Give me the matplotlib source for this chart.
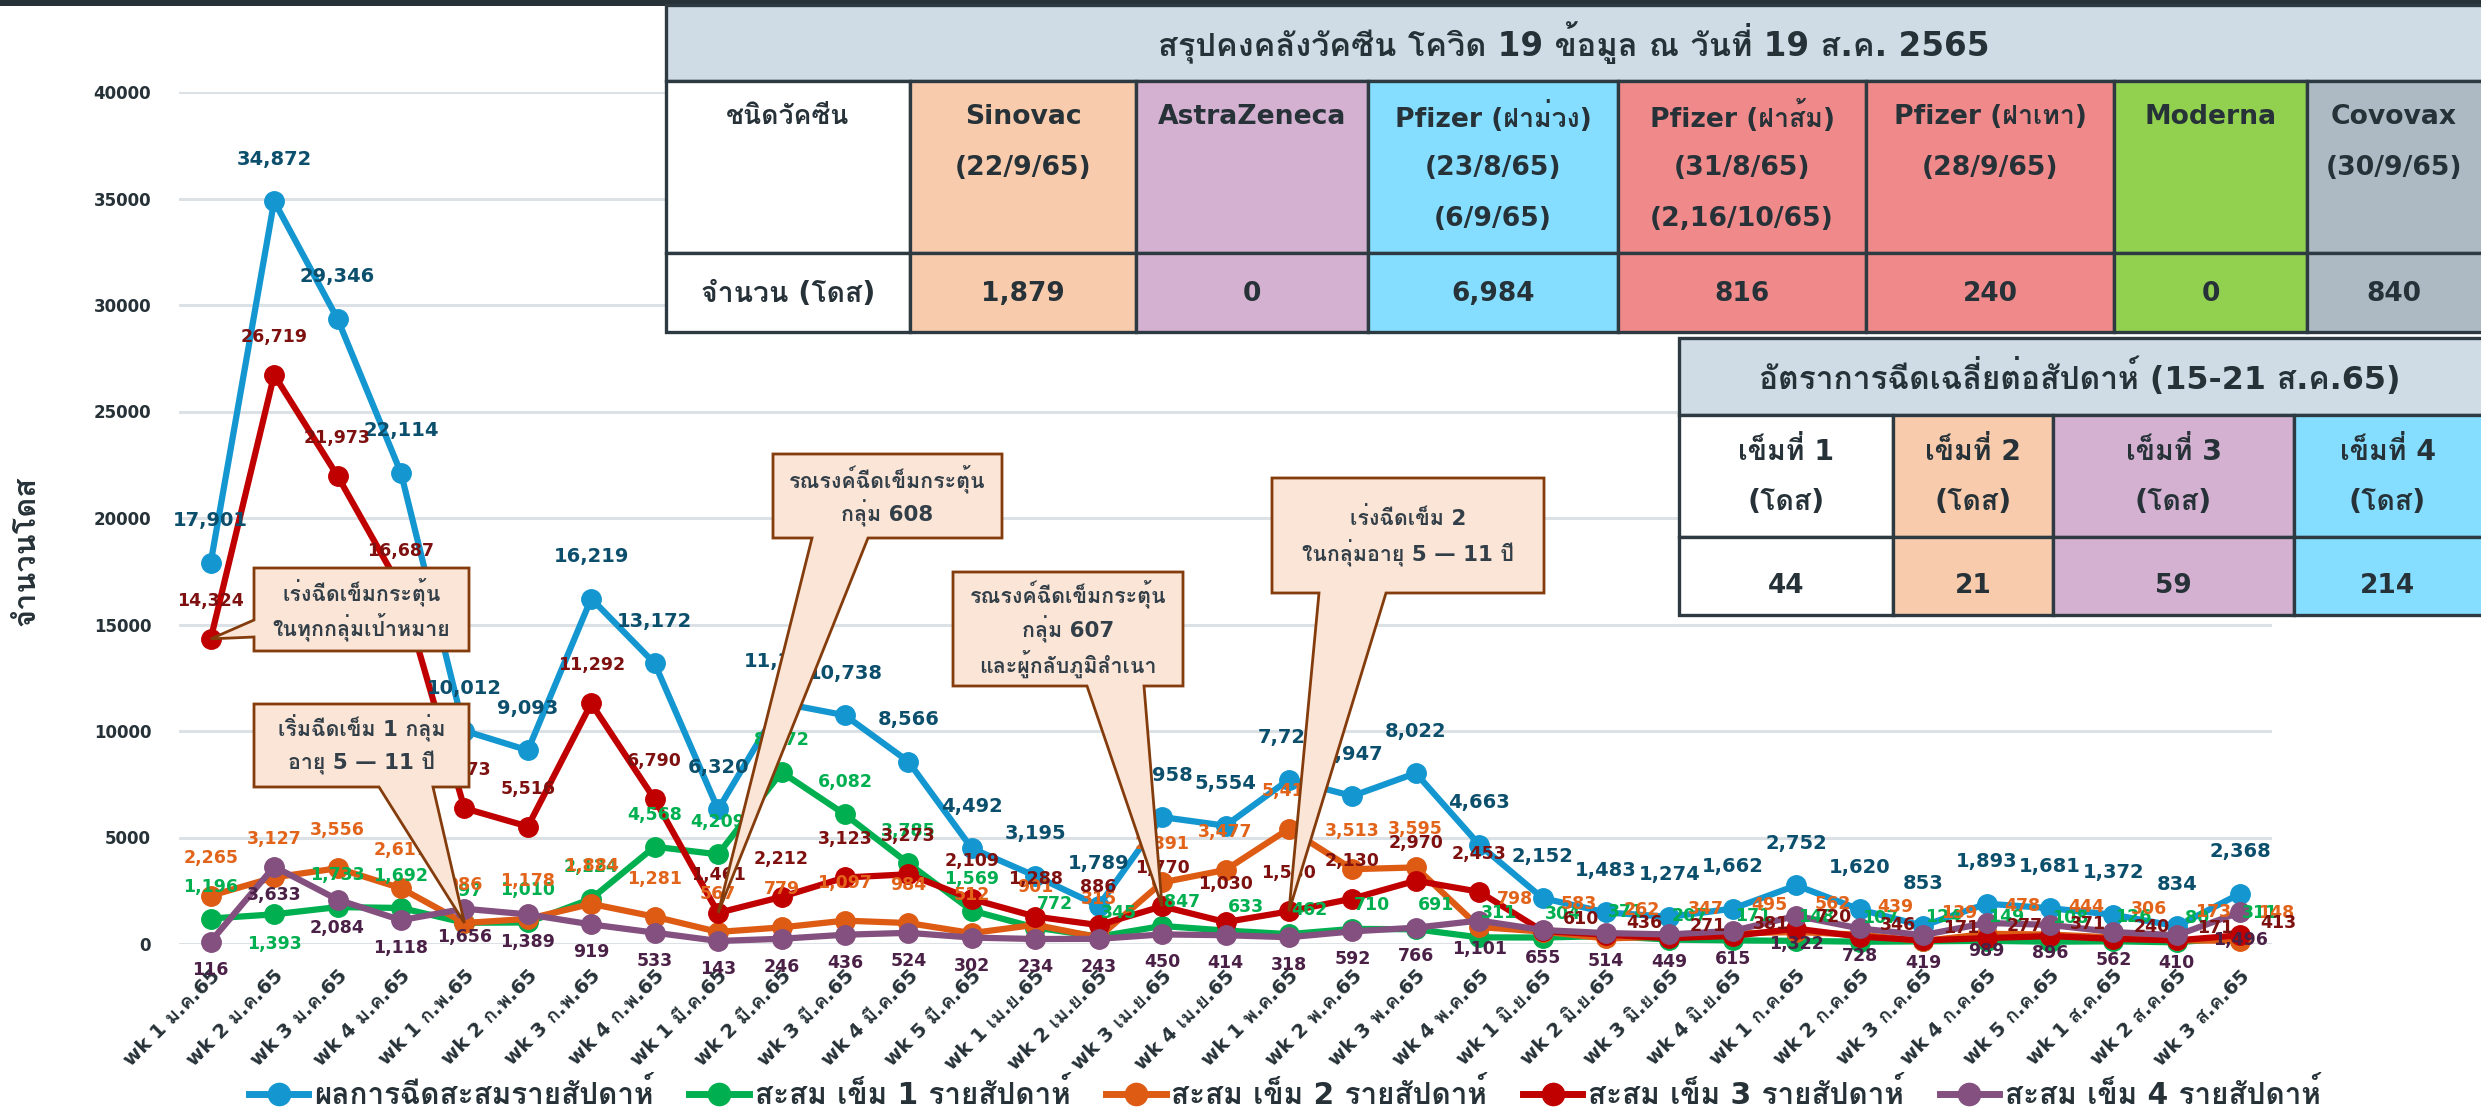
import numpy as np
import matplotlib
matplotlib.use("Agg")
import matplotlib.pyplot as plt
from matplotlib import font_manager
from matplotlib.ft2font import FT2Font
from matplotlib.lines import Line2D
from matplotlib.patches import Rectangle, Polygon

W, H = 2481, 1114

# ---- data ----
weeks = ["wk 1 ม.ค.65", "wk 2 ม.ค.65", "wk 3 ม.ค.65", "wk 4 ม.ค.65",
         "wk 1 ก.พ.65", "wk 2 ก.พ.65", "wk 3 ก.พ.65", "wk 4 ก.พ.65",
         "wk 1 มี.ค.65", "wk 2 มี.ค.65", "wk 3 มี.ค.65", "wk 4 มี.ค.65", "wk 5 มี.ค.65",
         "wk 1 เม.ย.65", "wk 2 เม.ย.65", "wk 3 เม.ย.65", "wk 4 เม.ย.65",
         "wk 1 พ.ค.65", "wk 2 พ.ค.65", "wk 3 พ.ค.65", "wk 4 พ.ค.65",
         "wk 1 มิ.ย.65", "wk 2 มิ.ย.65", "wk 3 มิ.ย.65", "wk 4 มิ.ย.65",
         "wk 1 ก.ค.65", "wk 2 ก.ค.65", "wk 3 ก.ค.65", "wk 4 ก.ค.65", "wk 5 ก.ค.65",
         "wk 1 ส.ค.65", "wk 2 ส.ค.65", "wk 3 ส.ค.65"]

total = [17901, 34872, 29346, 22114, 10012, 9093, 16219, 13172, 6320, 11309,
         10738, 8566, 4492, 3195, 1789, 5958, 5554, 7721, 6947, 8022, 4663,
         2152, 1483, 1274, 1662, 2752, 1620, 853, 1893, 1681, 1372, 834, 2368]
dose1 = [1196, 1393, 1733, 1692, 997, 1010, 2124, 4568, 4209, 8072, 6082,
         3785, 1569, 772, 345, 847, 633, 462, 710, 691, 311, 304, 371, 207,
         171, 148, 107, 124, 149, 108, 126, 80, 311]
dose2 = [2265, 3127, 3556, 2617, 986, 1178, 1884, 1281, 567, 779, 1097, 984,
         512, 901, 315, 2891, 3477, 5411, 3513, 3595, 798, 583, 262, 347, 495,
         562, 439, 139, 478, 444, 306, 173, 148]
dose3 = [14324, 26719, 21973, 16687, 6373, 5516, 11292, 6790, 1461, 2212,
         3123, 3273, 2109, 1288, 886, 1770, 1030, 1530, 2130, 2970, 2453, 610,
         436, 271, 381, 720, 346, 171, 277, 371, 240, 171, 413]
dose4 = [116, 3633, 2084, 1118, 1656, 1389, 919, 533, 143, 246, 436, 524, 302,
         234, 243, 450, 414, 318, 592, 766, 1101, 655, 514, 449, 615, 1322,
         728, 419, 989, 896, 562, 410, 1496]

series_names = ["ผลการฉีดสะสมรายสัปดาห์", "สะสม เข็ม 1 รายสัปดาห์",
                "สะสม เข็ม 2 รายสัปดาห์", "สะสม เข็ม 3 รายสัปดาห์",
                "สะสม เข็ม 4 รายสัปดาห์"]

stock_title = "สรุปคงคลังวัคซีน โควิด 19 ข้อมูล ณ วันที่ 19 ส.ค. 2565"
stock_head = ["ชนิดวัคซีน", "Sinovac", "AstraZeneca", "Pfizer (ฝาม่วง)",
              "Pfizer (ฝาส้ม)", "Pfizer (ฝาเทา)", "Moderna", "Covovax"]
stock_dates = [[], ["(22/9/65)"], [], ["(23/8/65)", "(6/9/65)"],
               ["(31/8/65)", "(2,16/10/65)"], ["(28/9/65)"], [], ["(30/9/65)"]]
stock_vals = ["จำนวน (โดส)", "1,879", "0", "6,984", "816", "240", "0", "840"]

rate_title = "อัตราการฉีดเฉลี่ยต่อสัปดาห์ (15-21 ส.ค.65)"
rate_head = ["เข็มที่ 1", "เข็มที่ 2", "เข็มที่ 3", "เข็มที่ 4"]
rate_unit = "(โดส)"
rate_vals = ["44", "21", "59", "214"]

notes = [["เร่งฉีดเข็มกระตุ้น", "ในทุกกลุ่มเป้าหมาย"],
         ["เริ่มฉีดเข็ม 1 กลุ่ม", "อายุ 5 — 11 ปี"],
         ["รณรงค์ฉีดเข็มกระตุ้น", "กลุ่ม 608"],
         ["รณรงค์ฉีดเข็มกระตุ้น", "กลุ่ม 607", "และผู้กลับภูมิลำเนา"],
         ["เร่งฉีดเข็ม 2", "ในกลุ่มอายุ 5 — 11 ปี"]]


# ---- fonts: a looped Thai face with a bold cut, Tahoma-like ----
def thai_bold_families():
    found = []
    for f in font_manager.fontManager.ttflist:
        w = f.weight if isinstance(f.weight, int) else 400
        if f.name in found or w < 600:
            continue
        try:
            if 0x0E01 in FT2Font(f.fname).get_charmap():
                found.append(f.name)
        except Exception:
            pass
    return found

thai = thai_bold_families()
prefer = ["Loma", "Sarabun", "Noto Sans Thai Looped", "IBM Plex Sans Thai Looped",
          "Noto Sans Thai", "Noto Sans Thai UI"]
pick = next((p for p in prefer if p in thai), thai[0] if thai else "Noto Sans Thai")
plt.rcParams["font.family"] = ["DejaVu Sans", pick]

TXT = "#263238"
BORDER = "#2E3A42"


def fx(x):
    return x / W


def fy(y):
    return 1 - y / H


fig = plt.figure(figsize=(W / 100, H / 100), dpi=100, facecolor="white")
renderer = fig.canvas.get_renderer()


def size_for(s, target_px):
    """font size (bold) that makes s about target_px wide"""
    t = fig.text(0, 0, s, fontsize=20, fontweight="bold")
    w = t.get_window_extent(renderer).width
    t.remove()
    return 20 * target_px / w


ax = fig.add_axes([fx(179), fy(944), (2272 - 179) / W, (944 - 92) / H])

x = np.arange(len(weeks))
styles = [  # data, line colour, label colour, label size
    (total, "#1497D0", "#0B4F6C", 14),
    (dose1, "#00B050", "#00B050", 12.5),
    (dose2, "#DE5B14", "#E2631A", 12.5),
    (dose3, "#C00000", "#7F1010", 12.5),
    (dose4, "#84507F", "#4B2046", 12.5),
]


def label_offset(k, i):
    if k == 0:
        return (0, 42)
    if k == 1:
        if i == 1:
            return (0, -30)
        return (0, 32) if i <= 12 else (20, 24)
    if k == 2:
        return (0, 38) if i <= 19 else (36, 28)
    if k == 3:
        return (0, 38) if i <= 20 else (38, 12)
    return (0, -28)


handles = []
for k, (vals, lc, tc, fs) in enumerate(styles):
    ax.plot(x, vals, color=lc, lw=4.5, marker="o", ms=14, clip_on=False,
            zorder=3 + k)
    handles.append(Line2D([], [], color=lc, lw=5, marker="o", ms=16))
    for i, v in enumerate(vals):
        ax.annotate(f"{v:,}", (i, v), xytext=label_offset(k, i),
                    textcoords="offset pixels", ha="center", va="center",
                    fontsize=fs, fontweight="bold", color=tc, zorder=10,
                    annotation_clip=False)

ax.set_xlim(-0.5, len(weeks) - 0.5)
ax.set_ylim(0, 40000)
ax.set_yticks(np.arange(0, 40001, 5000))
ax.set_yticklabels([str(v) for v in range(0, 40001, 5000)])
ax.yaxis.grid(True, color="#DCE1E5", lw=2.2)
ax.set_axisbelow(True)
for s in ax.spines.values():
    s.set_visible(False)
ax.tick_params(axis="y", length=0, pad=20, labelsize=12, labelcolor=TXT)
ax.tick_params(axis="x", length=0, pad=16, labelcolor=TXT)
for t in ax.get_yticklabels():
    t.set_fontweight("bold")
ax.set_xticks(x)
ax.set_xticklabels(weeks, rotation=45, ha="right", va="top",
                   rotation_mode="anchor", fontsize=size_for(weeks[0], 128),
                   fontweight="bold")

fig.text(fx(26), fy(551), "จำนวนโดส", rotation=90, ha="center", va="center",
         fontsize=size_for("จำนวนโดส", 150), fontweight="bold", color=TXT)

fig.legend(handles, series_names, loc="center", ncol=5, frameon=False,
           bbox_to_anchor=(fx(1285), fy(1094)),
           prop={"size": size_for(series_names[0], 340), "weight": "bold"},
           handlelength=2.0, columnspacing=1.2, handletextpad=0.2, labelcolor=TXT)

# ---- callouts ----
boxes = [(254, 568, 469, 651), (254, 704, 469, 787), (773, 454, 1002, 538),
         (953, 572, 1183, 686), (1272, 478, 1544, 593)]
wedges = [("left", 620, 637), ("bottom", 379, 433), ("bottom", 812, 868),
          ("bottom", 1087, 1144), ("bottom", 1319, 1386)]
tips = [(0, dose3[0]), (4, dose2[4]), (8, dose3[8]), (15, dose3[15]),
        (17, dose3[17])]
note_size = size_for(notes[0][0], 158)

for lines, (x0, y0, x1, y1), (side, b0, b1), tip in zip(notes, boxes, wedges, tips):
    dx, dy = ax.transData.transform(tip)
    tx, ty = dx, H - dy
    if side == "left":
        pts = [(x0, y0), (x1, y0), (x1, y1), (x0, y1), (x0, b1), (tx, ty), (x0, b0)]
    else:
        pts = [(x0, y0), (x1, y0), (x1, y1), (b1, y1), (tx, ty), (b0, y1), (x0, y1)]
    fig.add_artist(Polygon([(fx(a), fy(b)) for a, b in pts], closed=True,
                           transform=fig.transFigure, facecolor="#FBE5D6",
                           edgecolor="#843C0C", lw=2, zorder=4))
    cy = (y0 + y1) / 2
    n = len(lines)
    for j, s in enumerate(lines):
        fig.text(fx((x0 + x1) / 2), fy(cy + (j - (n - 1) / 2) * 35), s,
                 ha="center", va="center", fontsize=note_size, fontweight="bold",
                 color="#333F48", zorder=4.5)


# ---- tables ----
def cell(x0, y0, x1, y1, color):
    fig.add_artist(Rectangle((fx(x0), fy(y1)), (x1 - x0) / W, (y1 - y0) / H,
                             transform=fig.transFigure, facecolor=color,
                             edgecolor=BORDER, lw=2.4, zorder=5))


def ctext(xc, yc, s, size):
    fig.text(fx(xc), fy(yc), s, ha="center", va="center", fontsize=size,
             fontweight="bold", color=TXT, zorder=6)


fig.add_artist(Rectangle((0, fy(6)), 1, 6 / H, transform=fig.transFigure,
                         facecolor="#263238", lw=0, zorder=5))

head_size = size_for(stock_head[3], 197)
cols1 = [666, 910, 1136, 1368, 1618, 1866, 2114, 2307, 2490]
colors1 = ["white", "#F8CBAD", "#D5B1D1", "#85DEFF", "#F08A8A", "#F08A8A",
           "#92D050", "#ADB9C3"]
cell(666, 5, 2490, 81, "#CFDCE5")
ctext((666 + 2481) / 2, 43, stock_title, size_for(stock_title, 831))
for c in range(len(stock_head)):
    xa, xb = cols1[c], cols1[c + 1]
    xc = (xa + min(xb, 2481)) / 2
    cell(xa, 81, xb, 253, colors1[c])
    cell(xa, 253, xb, 332, colors1[c])
    for j, s in enumerate([stock_head[c]] + stock_dates[c]):
        ctext(xc, 117 + j * 51, s, head_size)
    ctext(xc, 294, stock_vals[c], 19 if c else size_for(stock_vals[0], 174))

cols2 = [1679, 1893, 2053, 2294, 2490]
colors2 = ["white", "#F8CBAD", "#D5B1D1", "#85DEFF"]
rate_size = size_for(rate_head[0], 96)
cell(1679, 338, 2490, 415, "#CFDCE5")
ctext((1679 + 2481) / 2, 377, rate_title, size_for(rate_title, 642))
for c in range(len(rate_head)):
    xa, xb = cols2[c], cols2[c + 1]
    xc = (xa + min(xb, 2481)) / 2
    cell(xa, 415, xb, 537, colors2[c])
    cell(xa, 537, xb, 615, colors2[c])
    ctext(xc, 452, rate_head[c], rate_size)
    ctext(xc, 502, rate_unit, rate_size)
    ctext(xc, 586, rate_vals[c], 19)

fig.savefig("out.png", dpi=100, facecolor="white")
